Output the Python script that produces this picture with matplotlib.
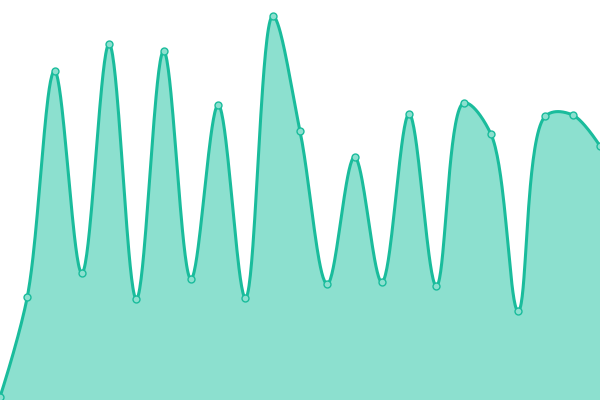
import numpy as np
import matplotlib
matplotlib.use("Agg")
import matplotlib.pyplot as plt

# valores (altura em px a partir da base)
idx = list(range(23))
values = [3, 103, 329, 127, 356, 101, 349, 121, 295, 102, 384, 269,
          116, 243, 118, 286, 114, 297, 266, 89, 284, 285, 254]

LINE = "#1abc9c"
FILL = "#8ce0cf"
STEP = 600 / 22  # px por ponto, pra parametrizacao centripeta


# catmull-rom centripeta (alpha 0.5), tipo curveCatmullRom do d3
def catmull_rom(x, y, alpha=0.5, n=40):
    px = np.asarray(x, float) * STEP
    py = np.asarray(y, float)
    pts = np.column_stack([px, py])
    out = []
    t = np.linspace(0, 1, n, endpoint=False)[:, None]
    for i in range(len(pts) - 1):
        p0 = pts[i - 1] if i > 0 else pts[i]
        p1, p2 = pts[i], pts[i + 1]
        p3 = pts[i + 2] if i + 2 < len(pts) else pts[i + 1]
        l01 = np.hypot(*(p1 - p0))
        l12 = np.hypot(*(p2 - p1))
        l23 = np.hypot(*(p3 - p2))
        l01a, l12a, l23a = l01**alpha, l12**alpha, l23**alpha
        l01b, l12b, l23b = l01**(2 * alpha), l12**(2 * alpha), l23**(2 * alpha)
        c1, c2 = p1.copy(), p2.copy()
        if l01a > 1e-9:
            a = 2 * l01b + 3 * l01a * l12a + l12b
            m = 3 * l01a * (l01a + l12a)
            c1 = (p1 * a - p0 * l12b + p2 * l01b) / m
        if l23a > 1e-9:
            b = 2 * l23b + 3 * l23a * l12a + l12b
            m = 3 * l23a * (l23a + l12a)
            c2 = (p2 * b + p1 * l23b - p3 * l12b) / m
        seg = ((1 - t)**3 * p1 + 3 * (1 - t)**2 * t * c1
               + 3 * (1 - t) * t**2 * c2 + t**3 * p2)
        out.append(seg)
    out.append(pts[-1:])
    out = np.vstack(out)
    return out[:, 0] / STEP, out[:, 1]


cx, cy = catmull_rom(idx, values)

fig = plt.figure(figsize=(6, 4), dpi=100)
ax = fig.add_axes([0, 0, 1, 1])
ax.fill_between(cx, 0, cy, color=FILL, lw=0)
ax.plot(cx, cy, color=LINE, lw=2.2)
ax.plot(idx, values, "o", ms=5, mfc=FILL, mec=LINE, mew=1)
ax.set_xlim(0, 22)
ax.set_ylim(0, 400)
ax.axis("off")

fig.savefig("out.png", dpi=100)
